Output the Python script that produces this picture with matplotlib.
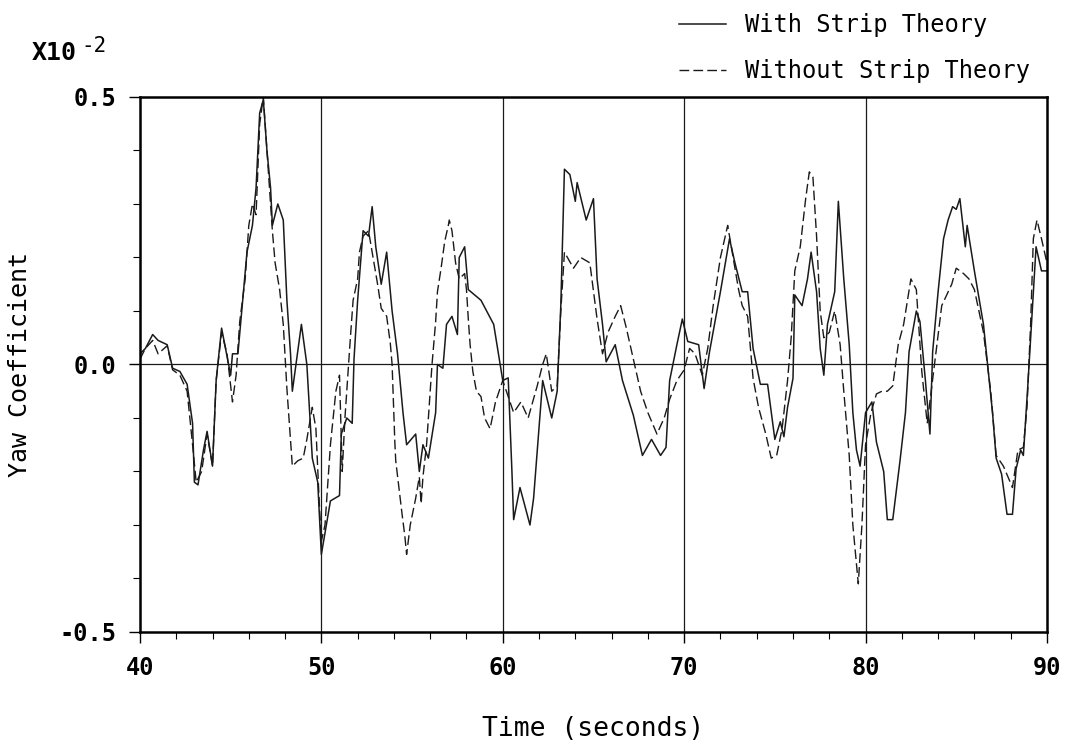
import matplotlib.pyplot as plt
from matplotlib.ticker import MultipleLocator

# yaw coefficient (x10^-2) with strip theory
with_t = [40.0, 40.3, 40.7, 41.0, 41.5, 41.8, 42.2, 42.6, 42.9, 43.0, 43.2, 43.5, 43.7, 44.0,
          44.2, 44.5, 45.0, 45.1, 45.4, 45.9, 46.2, 46.4, 46.6, 46.8, 47.0, 47.2, 47.3, 47.6,
          47.9, 48.1, 48.3, 48.4, 48.9, 49.2, 49.5, 49.8, 50.0, 50.5, 51.0, 51.1, 51.4, 51.7,
          51.8, 52.0, 52.3, 52.6, 52.8, 53.0, 53.3, 53.6, 53.9, 54.2, 54.5, 54.7, 55.2, 55.4,
          55.6, 55.9, 56.3, 56.4, 56.7, 56.9, 57.2, 57.5, 57.6, 57.9, 58.1, 58.8, 59.5, 60.0,
          60.3, 60.5, 60.6, 60.95, 61.5, 61.7, 62.2, 62.7, 63.0, 63.2, 63.4, 63.7, 64.0, 64.1,
          64.6, 65.0, 65.2, 65.5, 65.7, 66.2, 66.6, 67.2, 67.7, 68.2, 68.7, 69.0, 69.2, 69.6,
          69.9, 70.2, 70.8, 71.1, 71.4, 72.0, 72.5, 72.8, 73.2, 73.5, 73.8, 74.2, 74.6, 75.0,
          75.3, 75.5, 75.7, 76.0, 76.1, 76.5, 76.8, 77.0, 77.3, 77.5, 77.7, 77.9, 78.3, 78.5,
          78.8, 79.1, 79.3, 79.5, 79.7, 80.0, 80.35, 80.6, 81.0, 81.2, 81.5, 81.9, 82.2, 82.4,
          82.8, 83.0, 83.3, 83.55, 83.7, 84.0, 84.3, 84.55, 84.8, 85.0, 85.2, 85.5, 85.6, 86.0,
          86.5, 86.75, 87.0, 87.2, 87.5, 87.8, 88.1, 88.3, 88.55, 88.7, 88.95, 89.2, 89.4, 89.7,
          90.0]
with_y = [0.02, 0.03, 0.056, 0.045, 0.037, -0.007, -0.013, -0.037, -0.11, -0.22, -0.225, -0.16,
          -0.125, -0.19, -0.03, 0.068, -0.02, 0.02, 0.02, 0.21, 0.26, 0.33, 0.47, 0.495, 0.40,
          0.33, 0.26, 0.30, 0.27, 0.12, 0.02, -0.05, 0.075, 0.0, -0.175, -0.22, -0.355, -0.255,
          -0.245, -0.13, -0.10, -0.11, 0.01, 0.12, 0.25, 0.24, 0.295, 0.22, 0.15, 0.21, 0.10,
          0.02, -0.09, -0.15, -0.13, -0.20, -0.15, -0.175, -0.09, 0.0, -0.007, 0.075, 0.09,
          0.056, 0.20, 0.22, 0.14, 0.12, 0.075, -0.03, -0.025, -0.195, -0.29, -0.23, -0.30,
          -0.25, -0.03, -0.10, -0.05, 0.11, 0.365, 0.355, 0.305, 0.34, 0.27, 0.31, 0.16, 0.075,
          0.005, 0.037, -0.03, -0.095, -0.17, -0.14, -0.17, -0.155, -0.03, 0.037, 0.085, 0.043,
          0.037, -0.045, 0.024, 0.136, 0.235, 0.19, 0.136, 0.136, 0.03, -0.037, -0.037, -0.14,
          -0.107, -0.135, -0.08, -0.026, 0.13, 0.11, 0.16, 0.21, 0.136, 0.03, -0.02, 0.075,
          0.136, 0.305, 0.16, 0.037, -0.09, -0.16, -0.19, -0.09, -0.07, -0.145, -0.20, -0.29,
          -0.29, -0.18, -0.09, 0.024, 0.10, 0.08, -0.03, -0.13, 0.024, 0.136, 0.235, 0.27,
          0.295, 0.29, 0.31, 0.22, 0.26, 0.175, 0.075, -0.007, -0.09, -0.175, -0.205, -0.28,
          -0.28, -0.195, -0.16, -0.17, -0.037, 0.105, 0.22, 0.175, 0.175]

# yaw coefficient (x10^-2) without strip theory
without_t = [40.0, 40.3, 40.7, 41.0, 41.5, 41.8, 42.2, 42.6, 42.9, 43.1, 43.4, 43.7, 44.0, 44.2,
             44.5, 44.8, 45.1, 45.3, 45.5, 45.8, 46.0, 46.2, 46.4, 46.6, 46.8, 47.0, 47.2, 47.3,
             47.45, 47.7, 47.9, 48.1, 48.4, 48.7, 49.0, 49.2, 49.5, 49.7, 49.9, 50.0, 50.2, 50.5,
             50.8, 51.0, 51.15, 51.3, 51.6, 51.75, 52.0, 52.1, 52.3, 52.6, 52.9, 53.1, 53.3, 53.6,
             53.8, 53.9, 54.05, 54.1, 54.45, 54.6, 54.7, 54.9, 55.2, 55.4, 55.5, 55.6, 55.8, 56.0,
             56.1, 56.3, 56.4, 56.6, 56.8, 57.0, 57.05, 57.2, 57.4, 57.6, 57.9, 58.0, 58.1, 58.2,
             58.35, 58.55, 58.8, 59.0, 59.3, 59.6, 60.0, 60.3, 60.6, 61.0, 61.4, 61.9, 62.2, 62.4,
             62.7, 63.0, 63.2, 63.4, 63.9, 64.3, 64.8, 65.2, 65.5, 65.8, 66.2, 66.5, 66.8, 67.2,
             67.6, 68.0, 68.5, 68.9, 69.2, 69.6, 70.0, 70.3, 70.6, 71.0, 71.3, 71.6, 72.0, 72.4,
             72.7, 73.0, 73.2, 73.5, 73.8, 74.1, 74.5, 74.8, 75.1, 75.4, 75.7, 75.9, 76.1, 76.4,
             76.7, 76.9, 77.1, 77.3, 77.5, 77.7, 78.0, 78.3, 78.6, 78.8, 79.1, 79.3, 79.6, 79.8,
             80.0, 80.3, 80.6, 80.9, 81.2, 81.5, 81.8, 82.1, 82.5, 82.8, 83.1, 83.4, 83.8, 84.2,
             84.75, 85.0, 85.4, 85.7, 86.0, 86.5, 86.9, 87.2, 87.6, 88.1, 88.4, 88.7, 88.9, 89.1,
             89.25, 89.45, 89.7, 90.0]
without_y = [0.01, 0.03, 0.045, 0.02, 0.035, -0.01, -0.02, -0.05, -0.15, -0.22, -0.20, -0.13,
             -0.19, -0.03, 0.06, 0.02, -0.07, -0.02, 0.08, 0.16, 0.26, 0.30, 0.28, 0.45, 0.50,
             0.40, 0.30, 0.25, 0.19, 0.14, 0.075, -0.045, -0.19, -0.18, -0.175, -0.14, -0.08,
             -0.12, -0.27, -0.33, -0.30, -0.15, -0.05, -0.02, -0.20, -0.10, 0.05, 0.12, 0.16,
             0.21, 0.24, 0.25, 0.19, 0.15, 0.105, 0.09, 0.04, 0.0, -0.145, -0.18, -0.28, -0.32,
             -0.355, -0.30, -0.25, -0.21, -0.26, -0.21, -0.15, -0.05, 0.0, 0.08, 0.136, 0.18,
             0.23, 0.26, 0.27, 0.25, 0.19, 0.16, 0.17, 0.14, 0.085, 0.037, -0.013, -0.05, -0.06,
             -0.10, -0.12, -0.07, -0.03, -0.06, -0.09, -0.07, -0.10, -0.04, 0.0, 0.02, -0.05,
             -0.04, 0.10, 0.21, 0.18, 0.20, 0.19, 0.085, 0.02, 0.06, 0.09, 0.11, 0.07, 0.01,
             -0.05, -0.09, -0.13, -0.10, -0.065, -0.03, -0.01, 0.03, 0.02, -0.02, 0.03, 0.11,
             0.20, 0.26, 0.20, 0.14, 0.11, 0.09, -0.026, -0.08, -0.13, -0.175, -0.17, -0.12,
             -0.03, 0.05, 0.175, 0.22, 0.31, 0.36, 0.35, 0.24, 0.10, 0.05, 0.06, 0.10, 0.037,
             -0.05, -0.17, -0.30, -0.41, -0.30, -0.15, -0.09, -0.055, -0.05, -0.05, -0.04, 0.037,
             0.075, 0.16, 0.14, -0.013, -0.11, 0.0, 0.11, 0.15, 0.18, 0.17, 0.16, 0.14, 0.06,
             -0.05, -0.17, -0.19, -0.23, -0.16, -0.155, -0.08, 0.075, 0.235, 0.27, 0.235, 0.19]

x_ticks = [40, 50, 60, 70, 80, 90]
y_ticks = [-0.5, 0.0, 0.5]
y_tick_labels = ['-0.5', '0.0', '0.5']

plt.rcParams['font.family'] = 'DejaVu Sans Mono'

fig = plt.figure(figsize=(10.75, 7.45), dpi=100)
ax = fig.add_axes([0.1302, 0.1517, 0.8437, 0.7181])

ax.plot(with_t, with_y, color='#1a1a1a', lw=1.1, label='With Strip Theory')
ax.plot(without_t, without_y, color='#1a1a1a', lw=1.0, dashes=(7, 3),
        label='Without Strip Theory')

# grid lines at the major times and the zero line
for t in x_ticks[1:-1]:
    ax.axvline(t, color='#1a1a1a', lw=0.9, zorder=0)
ax.axhline(0, color='#1a1a1a', lw=0.9, zorder=0)

ax.set_xlim(40, 90)
ax.set_ylim(-0.5, 0.5)
ax.set_xticks(x_ticks)
ax.set_yticks(y_ticks)
ax.set_yticklabels(y_tick_labels)
ax.xaxis.set_minor_locator(MultipleLocator(2))
ax.yaxis.set_minor_locator(MultipleLocator(0.1))
ax.tick_params(which='major', direction='out', length=8, width=1, labelsize=17, pad=9)
ax.tick_params(which='minor', direction='out', length=5, width=0.8)
for lab in ax.get_xticklabels() + ax.get_yticklabels():
    lab.set_fontweight('bold')

for sp in ax.spines.values():
    sp.set_linewidth(1.8)

ax.set_xlabel('Time (seconds)', fontsize=19, labelpad=26)
ax.set_ylabel('Yaw Coefficient', fontsize=18, labelpad=20)

fig.text(32 / 1075, 1 - 53 / 745, 'X10', fontsize=18, fontweight='bold', va='center')
fig.text(81 / 1075, 1 - 46 / 745, '-2', fontsize=15, va='center')

ax.legend(loc='upper left', bbox_to_anchor=(667 / 1075, 1 - 1 / 745),
          bbox_transform=fig.transFigure, frameon=False, fontsize=17,
          handlelength=2.0, handletextpad=0.8, labelspacing=0.95, borderpad=0)

fig.savefig('out.png', dpi=100)
